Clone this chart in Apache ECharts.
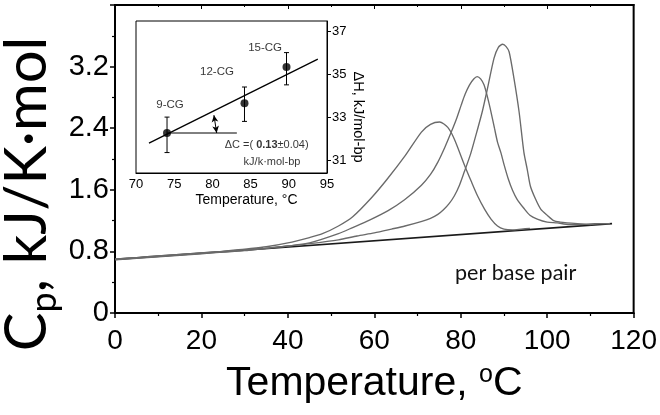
<!DOCTYPE html>
<html><head><meta charset="utf-8">
<script src="https://cdn.jsdelivr.net/npm/echarts@6/dist/echarts.min.js"></script>
<style>html,body{margin:0;padding:0;background:#fff}#c{width:660px;height:415px}</style>
</head><body><div id="c"></div>
<script>
// ---- main DSC curves (T in °C, Cp in kJ/K·mol per base pair) ----
const curve9CG = [[0,0.70],[5,0.72],[10,0.74],[15,0.76],[20,0.78],[25,0.80],[30,0.83],[35,0.86],[40,0.91],[45,0.98],[48,1.03],[51.7,1.13],[55,1.25],[59.4,1.50],[63,1.74],[67.1,2.04],[70.9,2.35],[73,2.45],[75.1,2.48],[77,2.41],[78.5,2.26],[80.8,1.93],[82.5,1.70],[83.9,1.52],[85.5,1.35],[87,1.22],[88.5,1.13],[90,1.09],[92,1.08],[94,1.09],[96,1.10]];
const curve12CG = [[0,0.69],[5,0.71],[10,0.73],[15,0.75],[20,0.77],[25,0.79],[30,0.81],[35,0.84],[40,0.87],[45,0.91],[51.7,1.03],[55,1.11],[59,1.21],[63.2,1.33],[67,1.47],[70.9,1.66],[73,1.80],[74.7,1.96],[76.3,2.15],[77.8,2.35],[79,2.52],[80.1,2.70],[81,2.84],[82,2.96],[83,3.04],[83.8,3.07],[84.6,3.04],[85.4,2.96],[86.2,2.80],[87,2.61],[87.8,2.40],[88.5,2.22],[89.3,2.08],[90,1.93],[91,1.74],[92,1.59],[93,1.48],[94.6,1.36],[96,1.27],[97.7,1.22],[100,1.18],[102.3,1.17],[105,1.15],[108,1.15],[111,1.16],[114.5,1.16]];
const curve15CG = [[0,0.70],[5,0.72],[10,0.74],[15,0.76],[20,0.78],[25,0.80],[30,0.82],[35,0.84],[40,0.87],[45,0.90],[51.7,0.95],[56,1.00],[60,1.04],[64,1.09],[67.1,1.13],[71,1.19],[73,1.23],[74.7,1.28],[76,1.34],[77.3,1.42],[78.5,1.52],[79.7,1.66],[80.8,1.83],[82.3,2.07],[83.9,2.39],[85,2.62],[86.2,2.92],[87.7,3.31],[88.7,3.45],[89.7,3.49],[90.5,3.46],[91.2,3.39],[92.3,3.05],[93.5,2.61],[94.6,2.09],[95.4,1.86],[96.1,1.65],[97.3,1.48],[98.5,1.35],[100,1.27],[101.5,1.20],[103,1.18],[104.6,1.17],[107,1.16],[110,1.15],[112,1.16],[114.5,1.16]];
const baseline = [[0,0.695],[115,1.16]];

// ---- inset: ΔH vs Tm ----
const insetNames = ['9-CG','12-CG','15-CG'];
const insetTm = [74.06, 84.2, 89.7];
const insetDH = [32.26, 33.65, 35.33];
const insetErrLow = [31.35, 32.8, 34.5];
const insetErrHigh = [33.0, 34.4, 36.0];
const fitLine = [[71.7,31.79],[93.8,35.7]];
const refLine = [[74.06,32.26],[83.2,32.26]];
const arrowEnds = [[80.2,33.09],[80.56,32.26]];
const insetLabelPos = [[74.45,33.56],[80.6,35.09],[86.9,36.2]];
const dcLabelPos = [[87.1,31.7],[87.8,30.9]];
const insetYTicks = [31,33,35,37];

const chart = echarts.init(document.getElementById('c'), null, {renderer:'canvas'});
const AR = 'Liberation Sans';
const curveStyle = {color:'#6a6a6a', width:1.35};

const option = {
  animation:false,
  backgroundColor:'#fff',
  grid:[
    {left:115, right:23, top:5, bottom:102, show:true, borderColor:'#000', borderWidth:2},
    {left:136, right:333, top:21, bottom:242, show:true, borderColor:'#000', borderWidth:1, backgroundColor:'#fff', z:5}
  ],
  xAxis:[
    {gridIndex:0, type:'value', min:0, max:120, interval:20, position:'bottom',
     axisLine:{show:true, lineStyle:{color:'#000', width:2}},
     axisTick:{show:true, length:5, lineStyle:{color:'#000', width:1.5}},
     minorTick:{show:true, splitNumber:2, length:3, lineStyle:{color:'#000', width:1.2}},
     splitLine:{show:false},
     axisLabel:{fontFamily:AR, fontSize:28, color:'#000', margin:14},
     name:'Temperature, {s|o}C', nameLocation:'middle', nameGap:50,
     nameTextStyle:{fontFamily:AR, fontSize:41, color:'#000',
       rich:{s:{fontFamily:AR, fontSize:25, color:'#000', verticalAlign:'top'}}}},
    {gridIndex:0, type:'value', min:0, max:120, interval:20, position:'top',
     axisLine:{show:true, lineStyle:{color:'#000', width:2}},
     axisTick:{show:true, inside:true, length:4, lineStyle:{color:'#000', width:1}},
     minorTick:{show:true, splitNumber:2, length:2, lineStyle:{color:'#000', width:1}},
     axisLabel:{show:false}, splitLine:{show:false}},
    {gridIndex:1, type:'value', min:70, max:95, interval:5,
     axisLine:{show:true, lineStyle:{color:'#000', width:1}},
     axisTick:{show:false}, splitLine:{show:false},
     axisLabel:{fontFamily:AR, fontSize:13, color:'#000', margin:5},
     name:'Temperature, °C', nameLocation:'middle', nameGap:20,
     nameTextStyle:{fontFamily:AR, fontSize:14, color:'#000', padding:[0,0,0,30]}}
  ],
  yAxis:[
    {gridIndex:0, type:'value', min:0, max:4, interval:0.8,
     axisLine:{show:true, lineStyle:{color:'#000', width:2}},
     axisTick:{show:true, length:5, lineStyle:{color:'#000', width:1.5}},
     minorTick:{show:true, splitNumber:2, length:3, lineStyle:{color:'#000', width:1.2}},
     splitLine:{show:false},
     axisLabel:{fontFamily:AR, fontSize:29, color:'#000', margin:6, showMaxLabel:false,
       formatter:v=> v===0 ? '0' : v.toFixed(1)}},
    {gridIndex:1, type:'value', min:30.4, max:37.47, position:'right',
     axisLine:{show:true, lineStyle:{color:'#000', width:1}},
     axisTick:{show:true, length:4, customValues:insetYTicks, lineStyle:{color:'#000', width:1}},
     axisLabel:{fontFamily:AR, fontSize:13, color:'#000', margin:5, customValues:insetYTicks},
     splitLine:{show:false},
     name:'ΔH, kJ/mol-bp', nameLocation:'middle', nameRotate:-90, nameGap:19,
     nameTextStyle:{fontFamily:AR, fontSize:14.5, color:'#000', padding:[0,0,0,40]}}
  ],
  series:[
    {type:'line', xAxisIndex:0, yAxisIndex:0, data:baseline, showSymbol:false, lineStyle:{color:'#1a1a1a', width:1.7}, z:3},
    {type:'line', xAxisIndex:0, yAxisIndex:0, data:curve9CG, showSymbol:false, smooth:0.25, lineStyle:curveStyle},
    {type:'line', xAxisIndex:0, yAxisIndex:0, data:curve12CG, showSymbol:false, smooth:0.25, lineStyle:curveStyle},
    {type:'line', xAxisIndex:0, yAxisIndex:0, data:curve15CG, showSymbol:false, smooth:0.25, lineStyle:curveStyle},
    // inset fit line
    {type:'line', xAxisIndex:2, yAxisIndex:1, data:fitLine, showSymbol:false, lineStyle:{color:'#000', width:1.3}, z:6,
     markLine:{silent:true, symbol:['arrow','arrow'], symbolSize:[5,7], label:{show:false},
       lineStyle:{color:'#000', width:1, type:'solid', curveness:0.25},
       data:[[{coord:arrowEnds[0]},{coord:arrowEnds[1]}]]}},
    {type:'line', xAxisIndex:2, yAxisIndex:1, data:refLine, showSymbol:false, lineStyle:{color:'#000', width:1}, z:6},
    // error bars
    {type:'custom', xAxisIndex:2, yAxisIndex:1, z:6,
     data: insetTm.map((t,i)=>[t, insetErrLow[i], insetErrHigh[i]]),
     encode:{x:0, y:[1,2]},
     renderItem:(params, api)=>{
       const x=api.value(0), lo=api.coord([x,api.value(1)]), hi=api.coord([x,api.value(2)]);
       const w=2.5, st={stroke:'#000', lineWidth:1};
       return {type:'group', children:[
         {type:'line', shape:{x1:lo[0],y1:lo[1],x2:hi[0],y2:hi[1]}, style:st},
         {type:'line', shape:{x1:lo[0]-w,y1:lo[1],x2:lo[0]+w,y2:lo[1]}, style:st},
         {type:'line', shape:{x1:hi[0]-w,y1:hi[1],x2:hi[0]+w,y2:hi[1]}, style:st}
       ]};
     }},
    {type:'scatter', xAxisIndex:2, yAxisIndex:1, z:7, symbolSize:8, itemStyle:{color:'#000'},
     data: insetTm.map((t,i)=>[t, insetDH[i]])},
    // inset text labels
    {type:'scatter', xAxisIndex:2, yAxisIndex:1, z:7, symbolSize:0, silent:true,
     data: insetLabelPos.map((p,i)=>[p[0],p[1],insetNames[i]]),
     label:{show:true, position:'inside', formatter:p=>p.data[2], fontFamily:AR, fontSize:11.5, color:'#000'}},
    {type:'scatter', xAxisIndex:2, yAxisIndex:1, z:7, symbolSize:0, silent:true,
     data:[[dcLabelPos[0][0],dcLabelPos[0][1],'ΔC =( {b|0.13}±0.04)'],[dcLabelPos[1][0],dcLabelPos[1][1],'kJ/k·mol-bp']],
     label:{show:true, position:'inside', formatter:p=>p.data[2], fontFamily:AR, fontSize:11, color:'#000',
       rich:{b:{fontFamily:AR, fontSize:11, fontWeight:'bold', color:'#000'}}}}
  ],
  graphic:[
    {type:'text', x:27, y:194, rotation:Math.PI/2, z:10,
     style:{text:'C{s|p}, kJ/K·mol', fontFamily:'Lato', fontSize:58, lineHeight:70, fill:'#000', align:'center', verticalAlign:'middle',
       rich:{s:{fontFamily:'Lato', fontSize:36, lineHeight:26, fill:'#000', verticalAlign:'bottom'}}}},
    {type:'text', x:455, y:273, z:10,
     style:{text:'per base pair', fontFamily:'Lato', fontSize:21.5, fill:'#111', align:'left', verticalAlign:'middle'}}
  ]
};
chart.setOption(option);
</script></body></html>
